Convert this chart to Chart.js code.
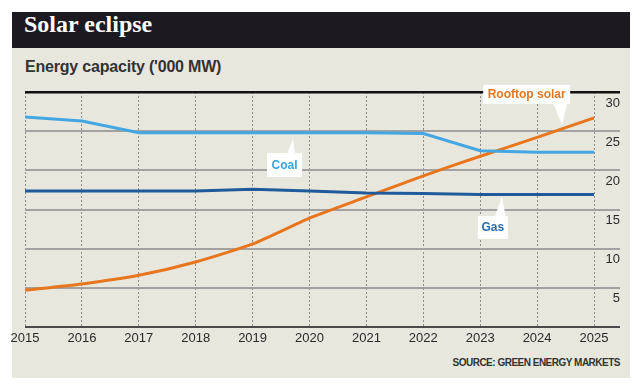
<!DOCTYPE html>
<html><head><meta charset="utf-8">
<script src="https://cdn.jsdelivr.net/npm/chart.js@4"></script>
<style>
html,body{margin:0;padding:0;background:#fff;width:644px;height:392px;overflow:hidden}
#panel{position:absolute;left:12px;top:12px;width:618px;height:366px;background:#e8e7de}
#header{position:absolute;left:12px;top:12px;width:618px;height:36px;background:#1d1920}
#title{position:absolute;left:24px;top:11px;height:36px;line-height:36px;font:bold 24px "Liberation Serif",serif;color:#fff;white-space:nowrap}
#subtitle{position:absolute;left:25px;top:58px;font:bold 16px "Liberation Sans",sans-serif;color:#333;white-space:nowrap;letter-spacing:-0.2px}
#source{position:absolute;right:24px;top:357px;font:bold 10px "Liberation Sans Narrow","Liberation Sans",sans-serif;color:#333;white-space:nowrap;letter-spacing:-0.5px}
canvas{position:absolute;left:0;top:0}
</style></head>
<body>
<div id="panel"></div>
<div id="header"></div>
<div id="title">Solar eclipse</div>
<div id="subtitle">Energy capacity ('000 MW)</div>
<div id="source">SOURCE: GREEN ENERGY MARKETS</div>
<canvas id="c" width="644" height="392"></canvas>
<script>
const years = [2015, 2016, 2017, 2018, 2019, 2020, 2021, 2022, 2023, 2024, 2025];
const coal  = [26.8, 26.3, 24.8, 24.8, 24.8, 24.8, 24.8, 24.7, 22.5, 22.3, 22.3];
const gas   = [17.35, 17.35, 17.35, 17.35, 17.6, 17.35, 17.1, 17.05, 16.9, 16.9, 16.9];
const solar = [4.7, 5.5, 6.6, 8.3, 10.6, 13.9, 16.6, 19.3, 21.8, 24.2, 26.7];
const yTickValues = [0, 5, 10, 15, 20, 25, 30];
const seriesNames = ['Coal', 'Gas', 'Rooftop solar'];

const notes = [
  {text: 'Rooftop solar', color: '#e8761e', x: 2024.44, y: 25.8, bx: -79, by: -40, bw: 87, bh: 19, t0: -9, t1: 5, below: false},
  {text: 'Coal', color: '#3ba3e0', x: 2019.71, y: 24.0, bx: -26, by: 14, bw: 35, bh: 24, t0: -6, t1: 2, below: true},
  {text: 'Gas', color: '#2a6aa8', x: 2023.38, y: 16.6, bx: -24, by: 19, bw: 30, bh: 23, t0: -7, t1: 4, below: true}
];

const notePlugin = {
  id: 'notes',
  afterDatasetsDraw(chart) {
    const ctx = chart.ctx, xs = chart.scales.x, ys = chart.scales.y;
    ctx.save();
    notes.forEach(n => {
      const ax = xs.getPixelForValue(n.x), ay = ys.getPixelForValue(n.y);
      const left = ax + n.bx, top = ay + n.by;
      ctx.fillStyle = '#ffffff';
      ctx.fillRect(left, top, n.bw, n.bh);
      ctx.beginPath();
      const baseY = n.below ? top + 1 : top + n.bh - 1;
      ctx.moveTo(ax + n.t0, baseY);
      ctx.lineTo(ax + n.t1, baseY);
      ctx.lineTo(ax, ay);
      ctx.closePath();
      ctx.fill();
      ctx.fillStyle = n.color;
      ctx.font = 'bold 12px "Liberation Sans", sans-serif';
      ctx.textAlign = 'center';
      ctx.textBaseline = 'middle';
      ctx.fillText(n.text, left + n.bw / 2, top + n.bh / 2 + 0.5);
    });
    ctx.restore();
  }
};

const toPts = arr => years.map((yr, i) => ({x: yr, y: arr[i]}));

new Chart(document.getElementById('c'), {
  type: 'line',
  data: {
    datasets: [
      {label: seriesNames[0], data: toPts(coal), borderColor: '#45a7e2', borderWidth: 3, tension: 0, pointRadius: 0},
      {label: seriesNames[1], data: toPts(gas), borderColor: '#1f5b9a', borderWidth: 3, tension: 0, pointRadius: 0},
      {label: seriesNames[2], data: toPts(solar), borderColor: '#e8761e', borderWidth: 3, tension: 0.2, pointRadius: 0}
    ]
  },
  options: {
    responsive: false,
    animation: false,
    devicePixelRatio: 1,
    layout: {padding: {left: 25, top: 92, right: 24, bottom: 45}},
    plugins: {legend: {display: false}, tooltip: {enabled: false}, title: {display: false}},
    scales: {
      x: {
        type: 'linear', min: years[0], max: years[years.length - 1],
        ticks: {stepSize: 1, callback: v => String(v), color: '#2a2a2a', font: {family: 'Liberation Sans', size: 13}, padding: 4, maxRotation: 0, autoSkip: false, includeBounds: false},
        grid: {color: '#8a8a8a', lineWidth: 1, drawTicks: false},
        border: {display: false, dash: [2, 2]},
        afterFit(s) { s.height = 20; }
      },
      y: {
        position: 'right', min: yTickValues[0], max: yTickValues[yTickValues.length - 1],
        afterBuildTicks(s) { s.ticks = yTickValues.map(v => ({value: v})); },
        ticks: {callback: v => v === 0 ? '' : String(v), crossAlign: 'far', labelOffset: 11, color: '#2a2a2a', font: {family: 'Liberation Sans', size: 13}},
        grid: {
          color: c => c.tick && c.tick.value === 30 ? '#111111' : (c.tick && c.tick.value === 0 ? '#4a4a4a' : '#a2a2a2'),
          lineWidth: c => c.tick && c.tick.value === 30 ? 2.5 : 2,
          tickLength: 26, drawTicks: true
        },
        border: {display: false},
        afterFit(s) { s.width = 26; }
      }
    }
  },
  plugins: [notePlugin]
});
</script>
</body></html>
